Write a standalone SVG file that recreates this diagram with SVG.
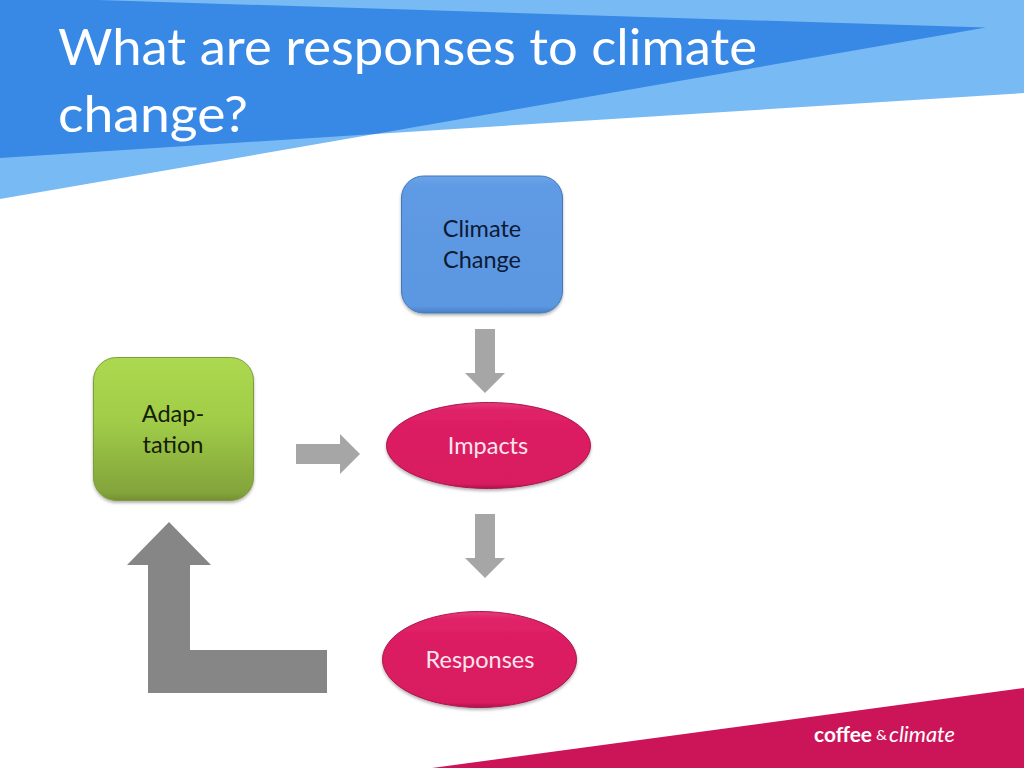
<svg xmlns="http://www.w3.org/2000/svg" width="1024" height="768" viewBox="0 0 1024 768">
<style>
text{font-family:"Lato","Open Sans","Liberation Sans",sans-serif}
.title{font-size:50px;fill:#fff}
.lbl{font-size:23.5px;text-anchor:middle}
.dark{fill:#0c1a33}
.olive{fill:#15200a}
.light{fill:#fbe4ee}
.arrow{fill:#a6a6a6}
.node{filter:url(#sh)}
</style>
<defs>
<filter id="sh" x="-10%" y="-10%" width="120%" height="125%"><feDropShadow dx="0" dy="2" stdDeviation="1.500" flood-color="#000" flood-opacity=".3"/></filter>
<linearGradient id="b" x1="0" y1="0" x2="0" y2="1"><stop offset="0" stop-color="#6ba4e8"/><stop offset=".07" stop-color="#5f9ae4"/><stop offset=".95" stop-color="#5b97e2"/><stop offset="1" stop-color="#4a80c4"/></linearGradient>
<linearGradient id="g" x1="0" y1="0" x2="0" y2="1"><stop offset="0" stop-color="#acd950"/><stop offset=".45" stop-color="#a0cc48"/><stop offset=".95" stop-color="#82a33a"/><stop offset="1" stop-color="#748f33"/></linearGradient>
<linearGradient id="r" x1="0" y1="0" x2="0" y2="1"><stop offset="0" stop-color="#e6397a"/><stop offset=".08" stop-color="#e02468"/><stop offset=".3" stop-color="#dc1c62"/><stop offset=".95" stop-color="#d91a60"/><stop offset="1" stop-color="#a8164d"/></linearGradient>
</defs>
<rect width="1024" height="768" fill="#fff"/>
<g id="banner">
<polygon points="0,0 1024,0 1024,93 375,134 0,199" fill="#78bbf4"/>
<polygon points="0,0 98,0 986,27.500 375,134 0,158" fill="#3888e6"/>
</g>
<text class="title" x="58" y="65" textLength="699" lengthAdjust="spacingAndGlyphs">What are responses to climate</text>
<text class="title" x="58" y="132" textLength="190" lengthAdjust="spacingAndGlyphs">change?</text>
<g id="connectors">
<polygon class="arrow" points="475,329 495,329 495,373 505,373 485,393 465,373 475,373"/>
<polygon class="arrow" points="296,444 340,444 340,434 360,454 340,474 340,464 296,464"/>
<polygon class="arrow" points="475,514 495,514 495,558 505,558 485,578 465,558 475,558"/>
<polygon fill="#868686" points="327,650 327,693 148,693 148,565 127,565 169,522 211,565 190,565 190,650"/>
</g>
<g id="climate-change">
<rect class="node" x="401.500" y="176" width="161" height="137" rx="22" fill="url(#b)" stroke="#4478b8" stroke-width="1"/>
<text class="lbl dark" x="482" y="237">Climate</text>
<text class="lbl dark" x="482" y="268">Change</text>
</g>
<g id="adaptation">
<rect class="node" x="93.500" y="357.500" width="160" height="143" rx="23" fill="url(#g)" stroke="#7f9c3a" stroke-width="1"/>
<text class="lbl olive" x="173" y="422">Adap-</text>
<text class="lbl olive" x="173" y="453">tation</text>
</g>
<g id="impacts">
<ellipse class="node" cx="488.500" cy="445.500" rx="102" ry="43" fill="url(#r)" stroke="#a8164d" stroke-width="1"/>
<text class="lbl light" x="488" y="454">Impacts</text>
</g>
<g id="responses">
<ellipse class="node" cx="479.500" cy="659.500" rx="97" ry="48" fill="url(#r)" stroke="#a8164d" stroke-width="1"/>
<text class="lbl light" x="480" y="668">Responses</text>
</g>
<g id="footer">
<polygon points="432,768 1024,688 1024,768" fill="#cc1559"/>
<text x="814" y="742" font-size="20" font-weight="700" fill="#fff" textLength="58" lengthAdjust="spacingAndGlyphs">coffee</text>
<text x="876" y="740" font-size="14" fill="#fff" textLength="11" lengthAdjust="spacingAndGlyphs">&amp;</text>
<text x="889" y="742" font-size="21" font-style="italic" fill="#fff" textLength="66" lengthAdjust="spacingAndGlyphs">climate</text>
</g>
</svg>
